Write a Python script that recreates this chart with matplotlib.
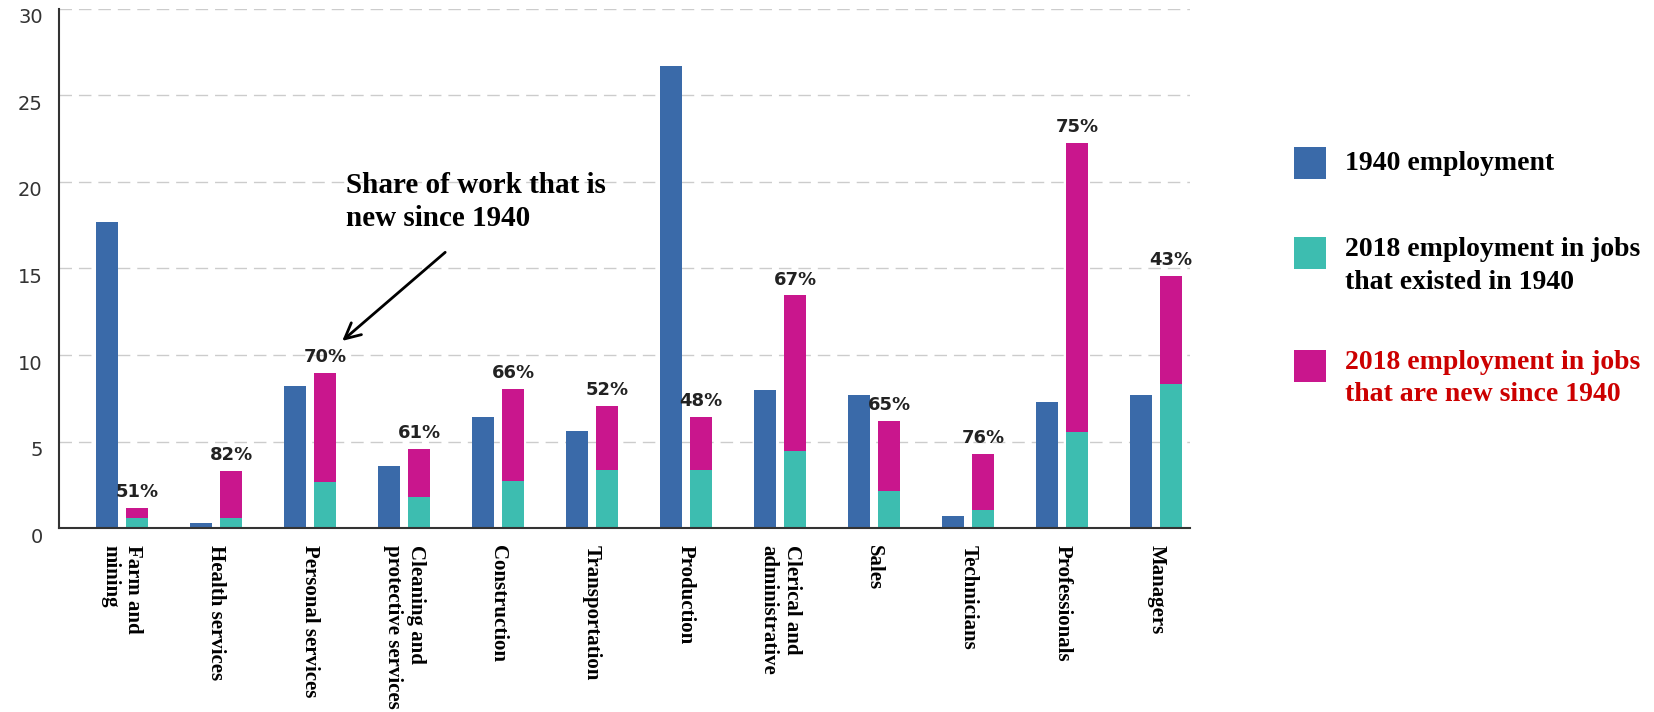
import numpy as np
import matplotlib
matplotlib.use("Agg")
import matplotlib.pyplot as plt
import matplotlib.transforms as mtransforms
from matplotlib.patches import Rectangle

# Employment by occupation group (millions)
categories = ["Farm and\nmining", "Health services", "Personal services",
              "Cleaning and\nprotective services", "Construction", "Transportation",
              "Production", "Clerical and\nadministrative", "Sales", "Technicians",
              "Professionals", "Managers"]
emp_1940 = [17.7, 0.3, 8.2, 3.6, 6.4, 5.6, 26.7, 8.0, 7.7, 0.7, 7.3, 7.7]
emp_2018_total = [1.18, 3.3, 8.96, 4.55, 8.02, 7.03, 6.41, 13.44, 6.16, 4.26, 22.23, 14.58]
share_new = [51, 82, 70, 61, 66, 52, 48, 67, 65, 76, 75, 43]

yticks = [0, 5, 10, 15, 20, 25, 30]

c_1940 = "#3a6aa9"
c_old = "#3dbdb0"
c_new = "#c9168d"
serif = "Liberation Serif"

total = np.array(emp_2018_total)
existing = total * (1 - np.array(share_new) / 100.0)
new = total - existing

fig = plt.figure(figsize=(16.54, 7.12), dpi=100)
ax = fig.add_axes([0.0359, 0.2584, 0.6836, 0.7290])

x = np.arange(len(categories))
w = 0.235
off = 0.16
ax.bar(x - off, emp_1940, w, color=c_1940, zorder=2)
ax.bar(x + off, existing, w, color=c_old, zorder=2)
ax.bar(x + off, new, w, bottom=existing, color=c_new, zorder=2)

for xi, t, p in zip(x, total, share_new):
    ax.annotate(f"{p}%", (xi + off, t), xytext=(0, 5), textcoords="offset points",
                ha="center", va="bottom", fontsize=13, fontweight="bold", color="#222222")

ax.set_xlim(-0.666, 11.36)
ax.set_ylim(0, 30)
ax.set_yticks(yticks)
ax.set_yticklabels([str(v) for v in yticks], fontsize=14, color="#333333")
ax.tick_params(axis="y", length=0, pad=12)
ax.tick_params(axis="x", length=0, pad=12)
# y labels sit a little below their gridlines
shift = mtransforms.ScaledTranslation(0, -7 / 100, fig.dpi_scale_trans)
for lab in ax.get_yticklabels():
    lab.set_transform(lab.get_transform() + shift)

ax.set_xticks(x)
ax.set_xticklabels(categories, rotation=270, ha="center", va="top",
                   multialignment="left", fontsize=15, fontweight="bold",
                   family=serif, color="black")

ax.grid(axis="y", color="#cccccc", linestyle=(0, (9, 5)), linewidth=1.0)
ax.set_axisbelow(True)
for s in ["top", "right"]:
    ax.spines[s].set_visible(False)
for s in ["left", "bottom"]:
    ax.spines[s].set_color("#333333")
    ax.spines[s].set_linewidth(1.5)

# callout pointing at the share labels
ax.text(2.38, 20.6, "Share of work that is\nnew since 1940", ha="left", va="top",
        fontsize=21, fontweight="bold", family=serif, color="black", linespacing=1.3)
ax.annotate("", xy=(2.32, 10.71), xytext=(3.46, 16.04),
            arrowprops=dict(arrowstyle="->", lw=2, color="black", mutation_scale=28))

# legend drawn by hand on the right
legend_items = [
    (c_1940, "1940 employment", "black", 0.7486, 0.771),
    (c_old, "2018 employment in jobs\nthat existed in 1940", "black", 0.6222, 0.6264),
    (c_new, "2018 employment in jobs\nthat are new since 1940", "#cc0000", 0.4635, 0.4684),
]
for col, label, tcol, sq_y, txt_y in legend_items:
    fig.add_artist(Rectangle((0.7823, sq_y), 0.0194, 0.0449, transform=fig.transFigure,
                             facecolor=col, edgecolor="none"))
    fig.text(0.8132, txt_y, label, ha="left", va="center", fontsize=20,
             fontweight="bold", family=serif, color=tcol, linespacing=1.42)

fig.savefig("out.png", dpi=100)
